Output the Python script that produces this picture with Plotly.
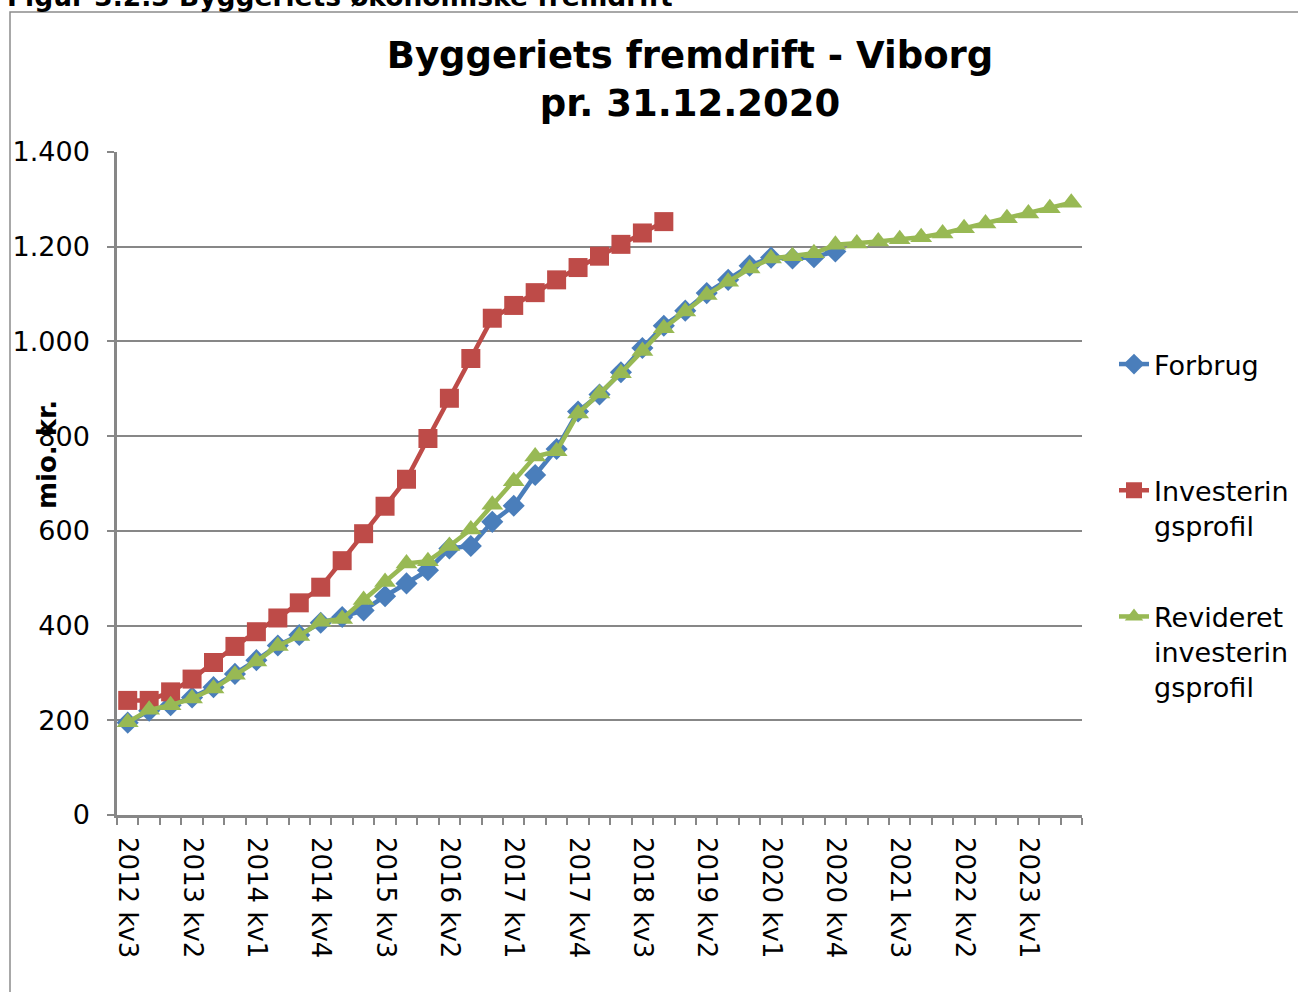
import plotly.graph_objects as go

# ---- data ----
quarters = []
for yr in range(2012, 2024):
    for q in range(1, 5):
        quarters.append(f"{yr} kv{q}")
categories = quarters[2:2 + 45]  # 2012 kv3 .. 2023 kv3

forbrug = [195, 220, 232, 248, 270, 298, 327, 358, 380, 406,
           418, 432, 462, 489, 517, 563, 568, 619, 653, 718,
           773, 852, 888, 935, 986, 1033, 1065, 1102, 1130, 1160,
           1177, 1175, 1178, 1190]
investeringsprofil = [242, 242, 260, 287, 322, 356, 387, 416, 448, 481,
                      537, 594, 652, 709, 795, 880, 964, 1049, 1076, 1103,
                      1130, 1156, 1180, 1205, 1229, 1253]
revideret = [196, 222, 232, 246, 267, 296, 324, 357, 378, 408,
             414, 454, 492, 531, 536, 568, 603, 655, 705, 757,
             768, 848, 890, 933, 980, 1028, 1063, 1098, 1126, 1154,
             1175, 1180, 1186, 1204, 1207, 1211, 1216, 1220, 1228, 1239,
             1249, 1260, 1270, 1281, 1293]

series_names = ["Forbrug<br> ", "Investerin<br>gsprofil", "Revideret<br>investerin<br>gsprofil"]
tick_labels = [c if i % 3 == 0 else "" for i, c in enumerate(categories)]
y_ticks = [0, 200, 400, 600, 800, 1000, 1200, 1400]

# ---- layout geometry (pixels) ----
W, H = 1298, 992
L, R, T, B = 117, 1082, 152, 815
pw, ph = R - L, B - T

def px(x):
    return (x - L) / pw

def py(y):
    return (B - y) / ph

FONT = "DejaVu Sans"
GRID = "#878787"

fig = go.Figure()
fig.add_trace(go.Scatter(
    x=categories[:len(forbrug)], y=forbrug, name=series_names[0], mode="lines+markers",
    line=dict(color="#4A7EBB", width=4.5),
    marker=dict(symbol="diamond", size=17, color="#4A7EBB"),
    legendgroup="a"))
fig.add_trace(go.Scatter(
    x=categories[:len(investeringsprofil)], y=investeringsprofil, name=series_names[1],
    mode="lines+markers",
    line=dict(color="#BE4B48", width=4.5),
    marker=dict(symbol="square", size=19, color="#BE4B48"),
    legendgroup="b"))
fig.add_trace(go.Scatter(
    x=categories[:len(revideret)], y=revideret, name=series_names[2], mode="lines+markers",
    line=dict(color="#98B954", width=4.5),
    marker=dict(symbol="triangle-up", size=19, color="#98B954"),
    legendgroup="c"))

fig.update_layout(
    width=W, height=H,
    margin=dict(l=L, r=W - R, t=T, b=H - B, pad=0, autoexpand=False),
    paper_bgcolor="white", plot_bgcolor="white",
    separators=",.",
    font=dict(family=FONT, color="black", size=26),
    title=dict(text="<b>Byggeriets fremdrift - Viborg<br>pr. 31.12.2020</b>",
               xref="container", x=690 / W, xanchor="center",
               yref="container", y=1 - 68 / H, yanchor="middle",
               font=dict(family=FONT, size=37, color="black")),
    showlegend=True,
    legend=dict(x=px(1114), xanchor="left", y=py(340), yanchor="top",
                font=dict(family=FONT, size=27, color="black"),
                tracegroupgap=53, valign="top", bgcolor="rgba(0,0,0,0)",
                itemwidth=30),
    xaxis=dict(type="category", categoryorder="array", categoryarray=categories,
               range=[-0.5, len(categories) - 0.5],
               tickmode="array", tickvals=categories, ticktext=tick_labels,
               tickson="boundaries", ticks="outside", ticklen=7, tickwidth=1.5,
               tickcolor=GRID, tickangle=90, ticklabelstandoff=14,
               tickfont=dict(family=FONT, size=26, color="black"),
               showgrid=False, showline=True, linecolor=GRID, linewidth=2.5,
               zeroline=False),
    yaxis=dict(range=[0, 1400], tickmode="array", tickvals=y_ticks,
               tickformat=",d", ticks="outside", ticklen=7, tickwidth=2,
               tickcolor=GRID, showgrid=True, gridcolor=GRID, gridwidth=2,
               showline=True, linecolor=GRID, linewidth=2.5, zeroline=False,
               ticklabelstandoff=12,
               tickfont=dict(family=FONT, size=27, color="black")),
)

fig.add_annotation(text="<b>mio. kr.</b>", textangle=-90, xref="paper", yref="paper",
                   x=px(47), y=py(455), xanchor="center", yanchor="middle",
                   showarrow=False, font=dict(family=FONT, size=26, color="black"))
fig.add_annotation(text="<b>Figur 3.2.3 Byggeriets økonomiske fremdrift</b>",
                   xref="paper", yref="paper", x=px(5), y=py(14),
                   xanchor="left", yanchor="bottom", showarrow=False,
                   font=dict(family=FONT, size=26.5, color="black"))
fig.add_shape(type="rect", xref="paper", yref="paper",
              x0=px(10), x1=px(1310), y0=py(1010), y1=py(12),
              line=dict(color="#8c8c8c", width=1.5), fillcolor="rgba(0,0,0,0)",
              layer="below")

fig.write_html("out.html", config={"displayModeBar": False},
               post_script="document.body.style.margin='0px';")
